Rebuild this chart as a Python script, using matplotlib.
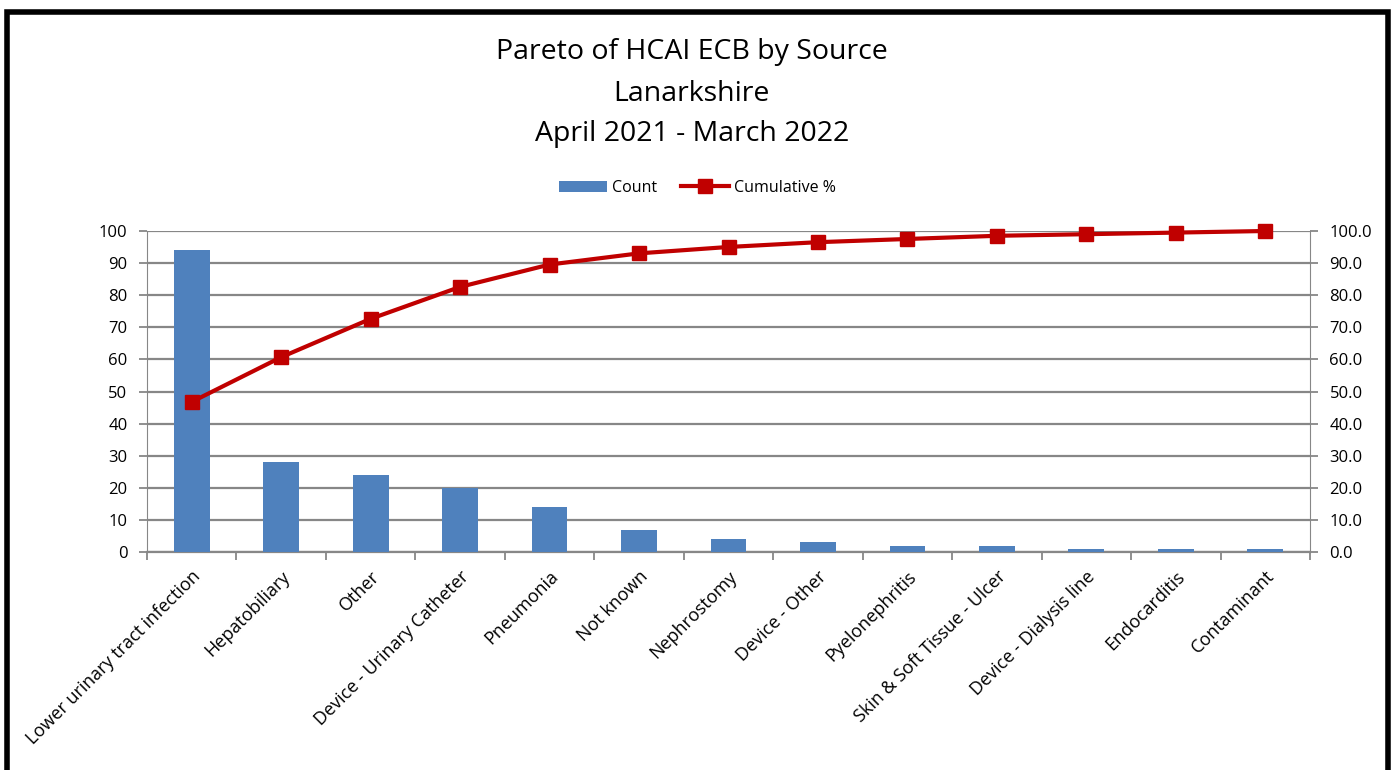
import numpy as np
import matplotlib
matplotlib.use("Agg")
import matplotlib.pyplot as plt
from matplotlib.patches import Rectangle

# data
sources = ["Lower urinary tract infection", "Hepatobiliary", "Other",
           "Device - Urinary Catheter", "Pneumonia", "Not known", "Nephrostomy",
           "Device - Other", "Pyelonephritis", "Skin & Soft Tissue - Ulcer",
           "Device - Dialysis line", "Endocarditis", "Contaminant"]
counts = [94, 28, 24, 20, 14, 7, 4, 3, 2, 2, 1, 1, 1]
cum_pct = np.cumsum(counts) / np.sum(counts) * 100

left_ticks = list(range(0, 101, 10))
right_ticks = list(range(0, 101, 10))

plt.rcParams['font.family'] = ['Open Sans', 'DejaVu Sans']

fig = plt.figure(figsize=(13.95, 7.7), dpi=100)
fig.patches.append(Rectangle((0.005, -0.1), 0.99, 1.085, transform=fig.transFigure,
                             fill=False, edgecolor="black", linewidth=4))

ax = fig.add_axes([147/1395, 1 - 552/770, (1310-147)/1395, (552-231)/770])
x = np.arange(len(sources))
ax.bar(x, counts, width=0.4, color="#4F81BD", label="Count", zorder=3)
ax.set_xlim(-0.5, len(sources) - 0.5)
ax.set_ylim(0, 100)
ax.set_yticks(left_ticks)
ax.yaxis.grid(True, color="#878787", linewidth=1.6, zorder=0)
ax.set_axisbelow(True)
for s in ["top", "right"]:
    ax.spines[s].set_visible(False)
ax.spines["left"].set_color("#878787")
ax.spines["bottom"].set_color("#878787")
ax.spines["bottom"].set_linewidth(1.6)
ax.tick_params(axis="y", length=6, width=1.3, color="#878787", labelsize=12, pad=8)
ax.set_xticks(x)
ax.set_xticklabels(sources, rotation=45, ha="right", rotation_mode="anchor", fontsize=13)
ax.tick_params(axis="x", which="major", length=0, pad=11)
ax.set_xticks(np.arange(-0.5, len(sources), 1), minor=True)
ax.tick_params(axis="x", which="minor", length=6, width=1.3, color="#878787")

ax2 = ax.twinx()
ax2.plot(x, cum_pct, color="#C00000", linewidth=3, marker="s", markersize=10.5,
         label="Cumulative %", zorder=4, clip_on=False)
ax2.set_ylim(0, 100)
ax2.set_yticks(right_ticks)
ax2.set_yticklabels([f"{t:.1f}" for t in right_ticks])
for s in ["top", "left", "bottom"]:
    ax2.spines[s].set_visible(False)
ax2.spines["right"].set_color("#878787")
ax2.tick_params(axis="y", length=6, width=1.3, color="#878787", labelsize=12, pad=8)

fig.text(0.496, 1 - 52/770, "Pareto of HCAI ECB by Source", ha="center", va="center", fontsize=20.5)
fig.text(0.496, 1 - 94/770, "Lanarkshire", ha="center", va="center", fontsize=20.5)
fig.text(0.496, 1 - 134/770, "April 2021 - March 2022", ha="center", va="center", fontsize=20.5)

h1, l1 = ax.get_legend_handles_labels()
h2, l2 = ax2.get_legend_handles_labels()
fig.legend(h1 + h2, l1 + l2, loc="center", bbox_to_anchor=(0.5, 1 - 188/770), ncol=2,
           frameon=False, fontsize=11.5, handlelength=3, columnspacing=1.5, handletextpad=0.3)

fig.savefig("out.png", dpi=100)
